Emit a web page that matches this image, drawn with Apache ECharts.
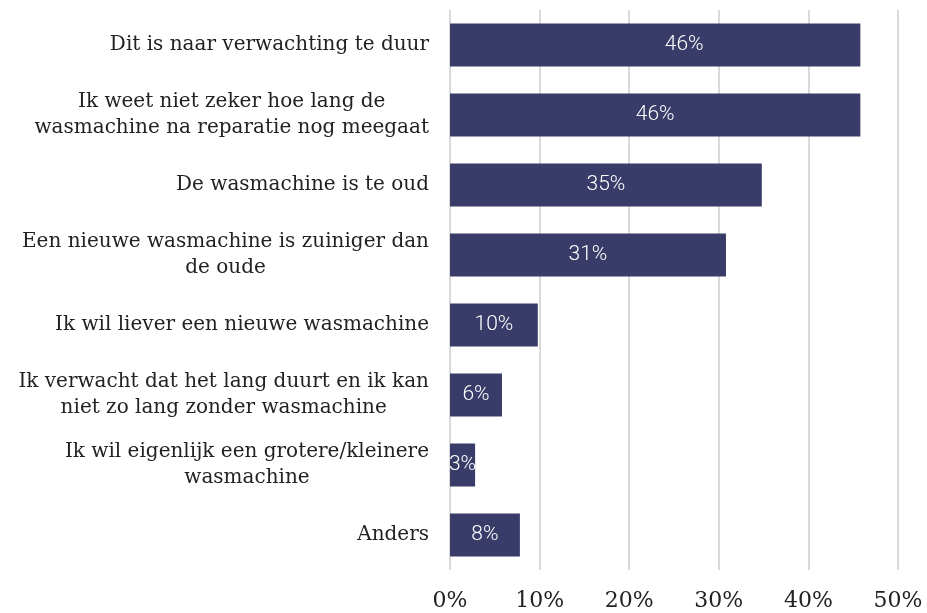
<!DOCTYPE html>
<html>
<head>
<meta charset="utf-8">
<style>
html,body{margin:0;padding:0;background:#fff;}
#chart{width:927px;height:613px;}
</style>
<script src="https://cdn.jsdelivr.net/npm/echarts@6/dist/echarts.min.js"></script>
</head>
<body>
<div id="chart"></div>
<script>
const categories = [
  "Dit is naar verwachting te duur",
  "Ik weet niet zeker hoe lang de\nwasmachine na reparatie nog meegaat",
  "De wasmachine is te oud",
  "Een nieuwe wasmachine is zuiniger dan\nde oude",
  "Ik wil liever een nieuwe wasmachine",
  "Ik verwacht dat het lang duurt en ik kan\nniet zo lang zonder wasmachine",
  "Ik wil eigenlijk een grotere/kleinere\nwasmachine",
  "Anders"
];
const values = [45.8, 45.8, 34.8, 30.8, 9.8, 5.8, 2.8, 7.8];
const xTicks = [0, 10, 20, 30, 40, 50];

const chart = echarts.init(document.getElementById('chart'), null, {renderer: 'canvas'});
const serif = '"DejaVu Serif", serif';
// the first bar's label sits right of centre in the reference
const seriesData = values.map(function (v, i) {
  return i === 0 ? {value: v, label: {offset: [29, 0]}} : v;
});
chart.setOption({
  animation: false,
  backgroundColor: '#ffffff',
  grid: {left: 450, right: 29, top: 10, bottom: 43, containLabel: false},
  xAxis: {
    type: 'value',
    min: xTicks[0],
    max: xTicks[xTicks.length - 1],
    interval: xTicks[1] - xTicks[0],
    axisLine: {show: false},
    axisTick: {show: false},
    splitLine: {show: true, lineStyle: {color: '#d9d9d9', width: 2}},
    axisLabel: {
      formatter: '{value}%',
      color: '#222222',
      fontFamily: serif,
      fontSize: 22,
      margin: 20
    }
  },
  yAxis: {
    type: 'category',
    inverse: true,
    data: categories,
    axisLine: {show: false},
    axisTick: {show: false},
    axisLabel: {
      margin: 21,
      align: 'right',
      formatter: function (v) {
        return v.split('\n').map(function (l) { return '{c|' + l + '}'; }).join('\n');
      },
      rich: {
        c: {
          align: 'center',
          fontFamily: serif,
          fontSize: 20,
          lineHeight: 26,
          color: '#222222'
        }
      }
    }
  },
  series: [{
    type: 'bar',
    data: seriesData,
    barWidth: 43,
    itemStyle: {color: '#393c68'},
    label: {
      show: true,
      position: 'inside',
      color: '#ffffff',
      fontFamily: 'Roboto, sans-serif',
      fontWeight: 300,
      fontSize: 21,
      formatter: function (p) { return Math.round(p.value) + '%'; }
    }
  }]
});
</script>
</body>
</html>
